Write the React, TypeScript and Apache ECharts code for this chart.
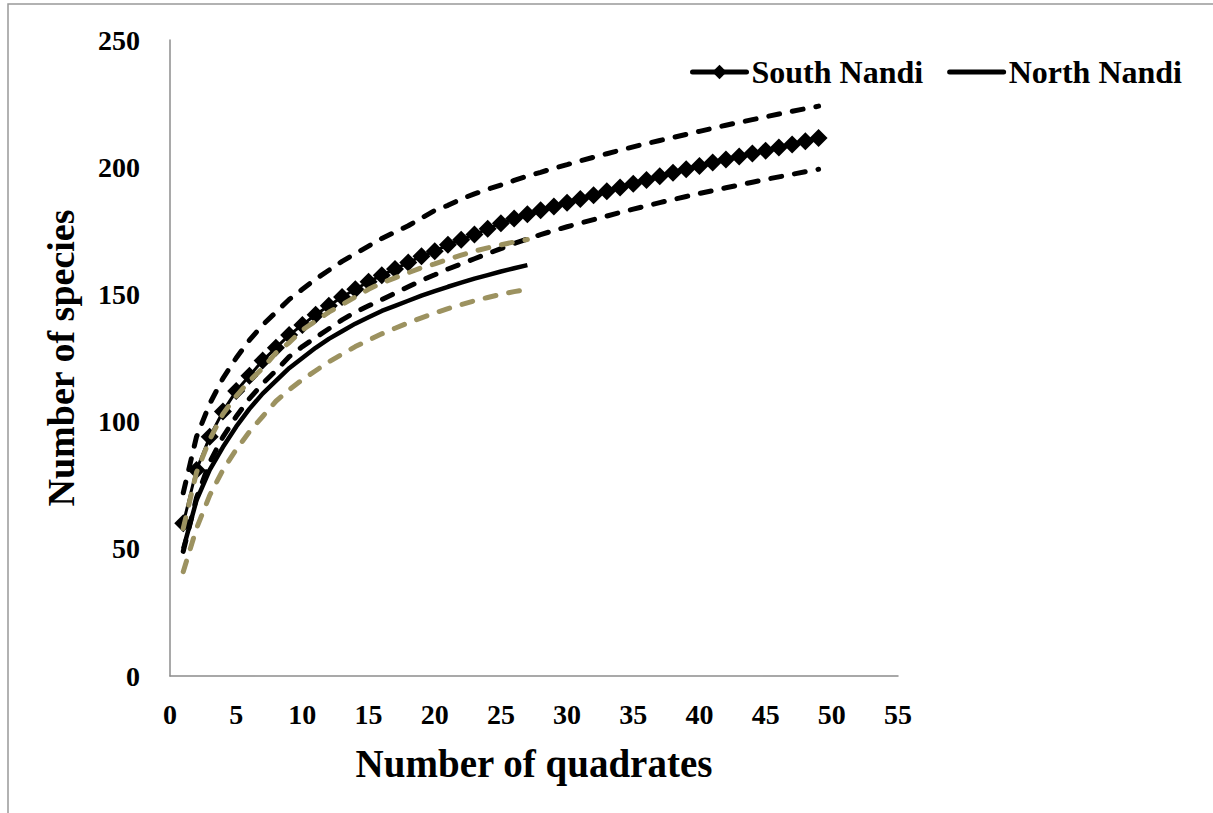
import React, { useEffect, useRef } from "react";
import * as echarts from "echarts";

const xTicks = [0, 5, 10, 15, 20, 25, 30, 35, 40, 45, 50, 55];
const yTicks = [0, 50, 100, 150, 200, 250];

const southX = [1, 2, 3, 4, 5, 6, 7, 8, 9, 10, 11, 12, 13, 14, 15, 16, 17, 18, 19, 20, 21, 22, 23, 24, 25, 26, 27, 28, 29, 30, 31, 32, 33, 34, 35, 36, 37, 38, 39, 40, 41, 42, 43, 44, 45, 46, 47, 48, 49];
const southSpecies = [60, 81, 94, 104, 112, 118, 124, 129, 134, 138, 142, 145.5, 149, 152, 155, 157.5, 160, 162.5, 165, 167, 169.5, 171.5, 173.5, 175.8, 178, 179.8, 181.5, 183.1, 184.6, 186, 187.5, 189, 190.5, 192, 193.5, 195, 196.4, 197.8, 199.2, 200.5, 201.8, 203, 204.2, 205.4, 206.5, 207.7, 208.9, 210.2, 211.5];
const southUpper = [72, 94, 107, 117, 125, 132, 138, 143, 148, 152, 156, 159.5, 163, 166, 169, 172, 174.5, 177, 180, 183, 185, 187.5, 189.5, 191.3, 193, 194.8, 196.5, 198, 199.6, 201, 202.5, 203.9, 205.3, 206.7, 208, 209.3, 210.5, 211.7, 212.9, 214.1, 215.3, 216.5, 217.6, 218.7, 219.8, 220.9, 222, 223, 224];
const southLower = [49, 70, 84, 94, 102, 109, 115, 120, 125.5, 129.5, 133, 136.5, 140, 143, 145.5, 148, 150.5, 153, 155.5, 157.7, 160, 162, 164, 166, 168, 170, 171.8, 173.5, 175.1, 176.6, 178, 179.4, 180.8, 182.2, 183.5, 184.8, 186.1, 187.3, 188.5, 189.7, 190.8, 191.9, 193, 194.1, 195.2, 196.2, 197.2, 198.2, 199.2];

const northX = [1, 2, 3, 4, 5, 6, 7, 8, 9, 10, 11, 12, 13, 14, 15, 16, 17, 18, 19, 20, 21, 22, 23, 24, 25, 26, 27];
const northSpecies = [50, 69, 81, 90, 98, 105, 111, 116, 121, 125, 129, 132.5, 135.5, 138.5, 141, 143.5, 145.5, 147.5, 149.5, 151.3, 153, 154.6, 156.2, 157.6, 159, 160.3, 161.5];
const northUpper = [58, 80, 93, 103, 110, 116, 121, 127, 131, 136, 139.5, 143, 146, 149, 152, 154.5, 156.5, 158.5, 160.5, 162, 163.8, 165.4, 167, 168.3, 169.5, 170.6, 171.6];
const northLower = [41, 58, 71, 81, 89, 96, 102, 108, 112.5, 116.5, 120, 123.5, 126.5, 129.5, 132, 134.5, 136.7, 138.8, 140.8, 142.7, 144.4, 146, 147.5, 148.8, 150, 151.1, 152];

const pairs = (xs: number[], ys: number[]) => xs.map((x, i) => [x, ys[i]]);

const FONT = "'Liberation Serif', 'Times New Roman', serif";
const OLIVE = "#9c9260";

export default function App() {
  const ref = useRef<HTMLDivElement>(null);
  useEffect(() => {
    if (!ref.current) return;
    const chart = echarts.init(ref.current, null, { renderer: "svg" });
    const dashed = (color: string) => ({
      color,
      width: 5,
      type: [11, 13] as any,
      cap: "round" as const,
    });
    chart.setOption({
      animation: false,
      backgroundColor: "#ffffff",
      grid: { left: 170, top: 40, right: 315, bottom: 137 },
      graphic: [
        {
          type: "rect",
          shape: { x: 8, y: 4, width: 1220, height: 830 },
          style: { fill: "none", stroke: "#999999", lineWidth: 1.5 },
          silent: true,
        },
      ],
      legend: {
        data: [
          { name: "South Nandi" },
          { name: "North Nandi", itemStyle: { opacity: 0 } },
        ],
        top: 51,
        right: 26,
        itemWidth: 54,
        itemHeight: 18,
        itemGap: 24,
        lineStyle: { width: 5, cap: "round" },
        textStyle: { fontFamily: FONT, fontWeight: "bold", fontSize: 32, color: "#000" },
      },
      xAxis: {
        type: "value",
        min: xTicks[0],
        max: xTicks[xTicks.length - 1],
        interval: 5,
        name: "Number of quadrates",
        nameLocation: "middle",
        nameGap: 68,
        nameTextStyle: { fontFamily: FONT, fontWeight: "bold", fontSize: 39, color: "#000" },
        axisLine: { show: true, lineStyle: { color: "#8c8c8c", width: 1.5 } },
        axisTick: { show: false },
        splitLine: { show: false },
        axisLabel: { fontFamily: FONT, fontWeight: "bold", fontSize: 28, color: "#000", margin: 24 },
      },
      yAxis: {
        type: "value",
        min: yTicks[0],
        max: yTicks[yTicks.length - 1],
        interval: 50,
        name: "Number of species",
        nameLocation: "middle",
        nameGap: 90,
        nameRotate: 90,
        nameTextStyle: { fontFamily: FONT, fontWeight: "bold", fontSize: 38, color: "#000" },
        axisLine: { show: true, lineStyle: { color: "#8c8c8c", width: 1.5 } },
        axisTick: { show: false },
        splitLine: { show: false },
        axisLabel: { fontFamily: FONT, fontWeight: "bold", fontSize: 28, color: "#000", margin: 30 },
      },
      series: [
        {
          name: "South Nandi",
          type: "line",
          data: pairs(southX, southSpecies),
          symbol: "diamond",
          symbolSize: 18,
          itemStyle: { color: "#000" },
          lineStyle: { color: "#000", width: 3 },
          z: 3,
        },
        {
          name: "South upper",
          type: "line",
          data: pairs(southX, southUpper),
          showSymbol: false,
          lineStyle: dashed("#000"),
          z: 3,
        },
        {
          name: "South lower",
          type: "line",
          data: pairs(southX, southLower),
          showSymbol: false,
          lineStyle: dashed("#000"),
          z: 3,
        },
        {
          name: "North Nandi",
          type: "line",
          data: pairs(northX, northSpecies),
          showSymbol: false,
          itemStyle: { color: "#000" },
          lineStyle: { color: "#000", width: 4.5 },
          z: 4,
        },
        {
          name: "North upper",
          type: "line",
          data: pairs(northX, northUpper),
          showSymbol: false,
          lineStyle: dashed(OLIVE),
          z: 5,
        },
        {
          name: "North lower",
          type: "line",
          data: pairs(northX, northLower),
          showSymbol: false,
          lineStyle: dashed(OLIVE),
          z: 5,
        },
      ],
    });
    return () => chart.dispose();
  }, []);
  return (
    <div
      ref={ref}
      style={{ position: "absolute", left: 0, top: 0, width: 1213, height: 813 }}
    />
  );
}
